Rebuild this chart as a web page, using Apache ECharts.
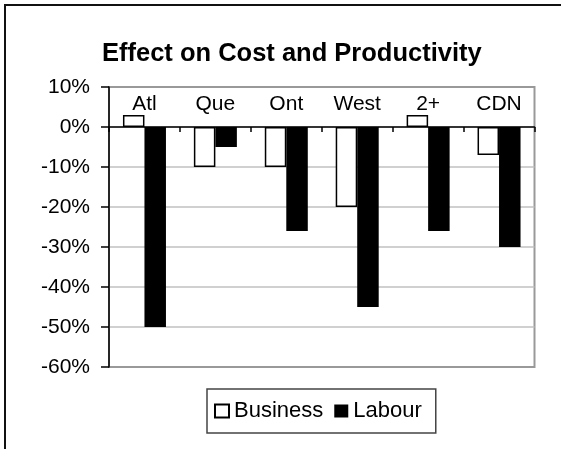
<!DOCTYPE html>
<html>
<head>
<meta charset="utf-8">
<script src="https://cdn.jsdelivr.net/npm/echarts@6/dist/echarts.min.js"></script>
<style>
  html, body { margin: 0; padding: 0; background: #fff; overflow: hidden; }
  #chart { width: 561px; height: 449px; }
</style>
</head>
<body>
<div id="chart"></div>
<script>
// regions
var categories = ["Atl", "Que", "Ont", "West", "2+", "CDN"];
// % change
var business = [3, -10, -10, -20, 3, -7];
var labour = [-50, -5, -26, -45, -26, -30];

var chart = echarts.init(document.getElementById("chart"));

var font = "Liberation Sans, Arial, sans-serif";

var option = {
  animation: false,
  textStyle: { fontFamily: font },
  title: {
    text: "Effect on Cost and Productivity",
    left: 97,
    top: 36,
    textStyle: {
      fontFamily: font,
      fontSize: 25.5,
      fontWeight: "bold",
      color: "#000"
    }
  },
  // outer frame, cut off at right and bottom like the source
  graphic: [
    {
      type: "rect",
      shape: { x: 5, y: 5, width: 620, height: 520 },
      style: { fill: "none", stroke: "#111", lineWidth: 2 },
      silent: true
    }
  ],
  legend: {
    data: ["Business", "Labour"],
    left: 207,
    top: 389,
    orient: "horizontal",
    icon: "rect",
    itemWidth: 14,
    itemHeight: 13,
    itemGap: 11,
    padding: [11, 14, 11, 7],
    borderColor: "#444",
    borderWidth: 1.5,
    textStyle: {
      fontFamily: font,
      fontSize: 22,
      color: "#000"
    }
  },
  grid: {
    left: 109,
    right: 26.5,
    top: 87,
    bottom: 82,
    show: true,
    borderColor: "#999",
    borderWidth: 2,
    containLabel: false
  },
  xAxis: {
    type: "category",
    data: categories,
    position: "top",
    axisLine: {
      onZero: true,
      lineStyle: { color: "#000", width: 1.5 }
    },
    axisTick: {
      show: true,
      inside: true,
      length: 5,
      interval: 0,
      lineStyle: { color: "#000", width: 1.5 }
    },
    axisLabel: {
      // labels sit just above the zero line
      margin: -28,
      fontFamily: font,
      fontSize: 21,
      color: "#000"
    },
    splitLine: { show: false }
  },
  yAxis: {
    type: "value",
    min: -60,
    max: 10,
    interval: 10,
    axisLine: {
      show: true,
      lineStyle: { color: "#000", width: 1.5 }
    },
    axisTick: {
      show: true,
      length: 8,
      lineStyle: { color: "#000", width: 1.5 }
    },
    axisLabel: {
      margin: 19,
      fontFamily: font,
      fontSize: 21,
      color: "#000",
      formatter: "{value}%"
    },
    splitLine: {
      show: true,
      showMinLine: false,
      showMaxLine: false,
      lineStyle: { color: "#c0c0c0", width: 1.5 }
    }
  },
  series: [
    {
      name: "Business",
      type: "bar",
      data: business,
      barWidth: 21.5,
      barGap: "0%",
      itemStyle: {
        color: "#fff",
        borderColor: "#000",
        borderWidth: 1.5
      }
    },
    {
      name: "Labour",
      type: "bar",
      data: labour,
      barWidth: 21.5,
      barGap: "0%",
      itemStyle: {
        color: "#000",
        borderColor: "#000",
        borderWidth: 0
      }
    }
  ]
};

chart.setOption(option);
</script>
</body>
</html>
